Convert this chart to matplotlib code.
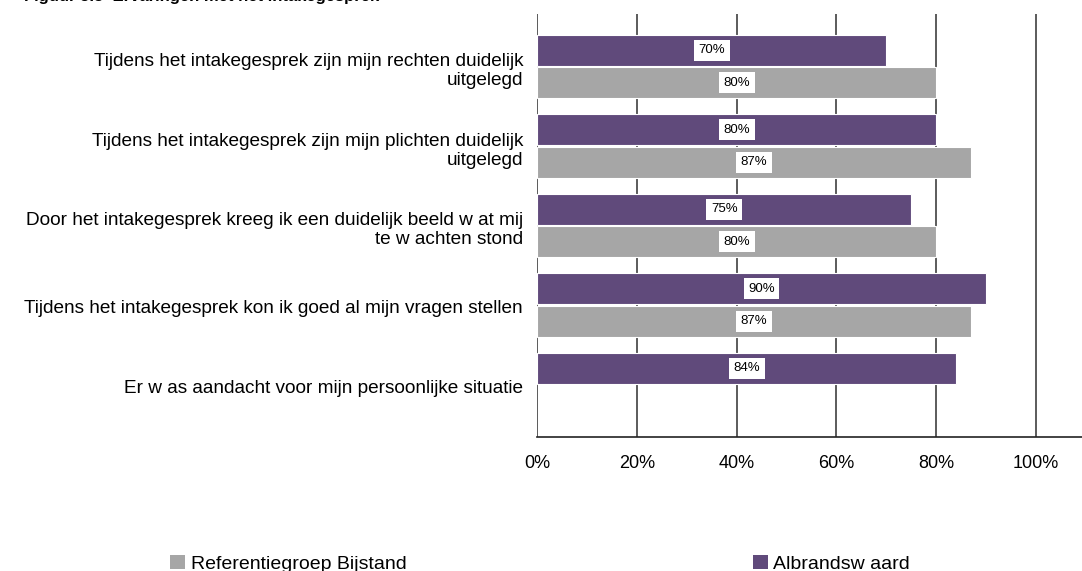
import matplotlib.pyplot as plt
from matplotlib.patches import Patch
import numpy as np

plt.rcParams['font.family'] = ['Liberation Sans', 'DejaVu Sans']

# Survey statements and scores (percent agreeing)
categories = [
    "Tijdens het intakegesprek zijn mijn rechten duidelijk\nuitgelegd",
    "Tijdens het intakegesprek zijn mijn plichten duidelijk\nuitgelegd",
    "Door het intakegesprek kreeg ik een duidelijk beeld w at mij\nte w achten stond",
    "Tijdens het intakegesprek kon ik goed al mijn vragen stellen",
    "Er w as aandacht voor mijn persoonlijke situatie",
]
albrandswaard = [70, 80, 75, 90, 84]
referentie = [80, 87, 80, 87, np.nan]
xticks = [0, 20, 40, 60, 80, 100]
xticklabels = ["0%", "20%", "40%", "60%", "80%", "100%"]
series_names = ["Referentiegroep Bijstand", "Albrandsw aard"]

PURPLE = "#604A7B"
GRAY = "#A6A6A6"

W, H = 1082, 571
fig = plt.figure(figsize=(W / 100, H / 100), dpi=100)
ax = fig.add_axes([537 / W, 1 - 437 / H, 545 / W, 423 / H])

n = len(categories)
centers = np.arange(n) + 0.66
off, bh = 0.205, 0.39

ax.barh(centers - off, albrandswaard, height=bh, color=PURPLE,
        edgecolor="white", linewidth=0.8, zorder=3)
ax.barh(centers + off, referentie, height=bh, color=GRAY,
        edgecolor="white", linewidth=0.8, zorder=3)

for yc, vals in ((centers - off, albrandswaard), (centers + off, referentie)):
    for y, v in zip(yc, vals):
        if np.isnan(v):
            continue
        ax.text(v / 2, y, f"{v:.0f}%", ha="center", va="center", fontsize=9.5,
                zorder=5,
                bbox=dict(boxstyle="square,pad=0.35", facecolor="white",
                          edgecolor="none"))

ax.set_xlim(0, 545 / 499 * 100)
ax.set_ylim(423 / 79.5, 0)
ax.set_xticks(xticks)
ax.set_xticklabels(xticklabels, fontsize=13)
ax.set_yticks(centers + 0.02)
ax.set_yticklabels(categories, fontsize=13.7, linespacing=1.15)
ax.tick_params(axis="y", length=0, pad=10)
ax.tick_params(axis="x", length=0, pad=13)

ax.xaxis.grid(True, color="#404040", linewidth=1.2, zorder=0)
ax.set_axisbelow(True)
for s in ("top", "right", "left"):
    ax.spines[s].set_visible(False)
ax.spines["bottom"].set_color("#222222")
ax.spines["bottom"].set_linewidth(1.2)

# Heading, mostly above the top edge
fig.text(24 / W, 1 - 0.5 / H, "Figuur 5.3  Ervaringen met het intakegesprek",
         fontsize=12, fontweight="bold", va="baseline", ha="left")

handles = [Patch(facecolor=GRAY, edgecolor="none"),
           Patch(facecolor=PURPLE, edgecolor="none")]
fig.legend(handles, series_names, loc="center left",
           bbox_to_anchor=(170 / W, 1 - 564 / H), ncol=2, frameon=False,
           fontsize=14, handlelength=0.77, handleheight=0.77,
           handletextpad=0.3, columnspacing=17.8, borderpad=0,
           borderaxespad=0)

fig.savefig("out.png", dpi=100)
